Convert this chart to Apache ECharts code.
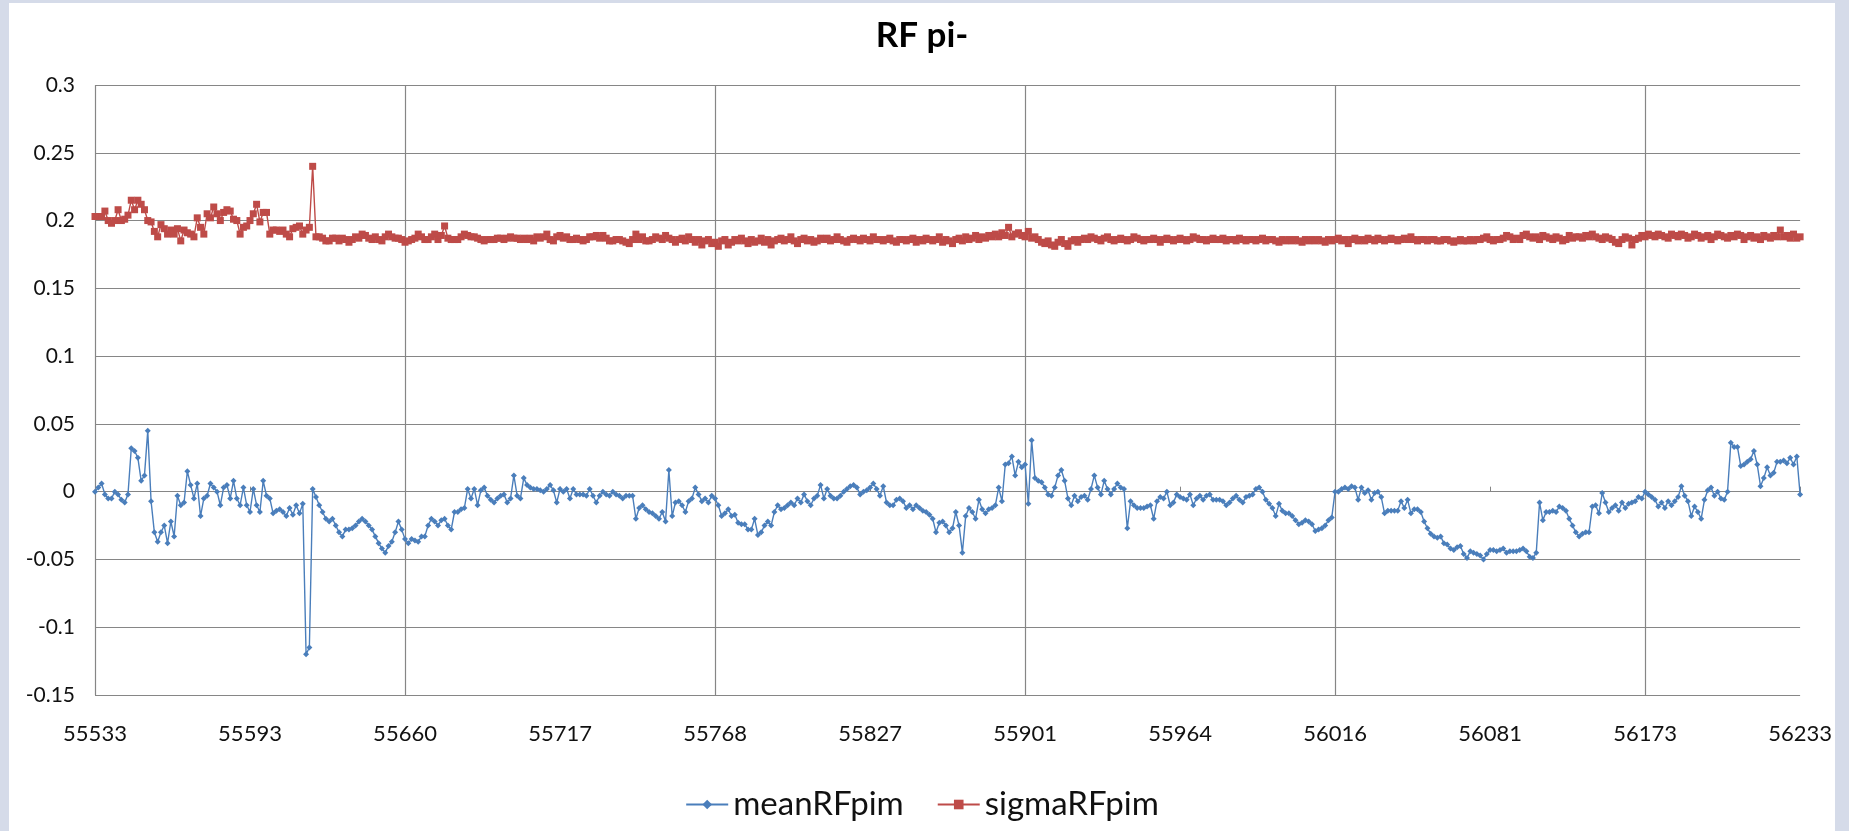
<!DOCTYPE html>
<html>
<head>
<meta charset="utf-8">
<title>RF pi-</title>
<script src="https://cdn.jsdelivr.net/npm/echarts@6/dist/echarts.min.js"></script>
<style>
  html, body { margin: 0; padding: 0; width: 1849px; height: 831px; overflow: hidden; background: #d5dbe9; }
  #chart { position: absolute; left: 9px; top: 3px; width: 1826px; height: 828px; background: #ffffff; }
</style>
</head>
<body>
<div id="chart"></div>
<script>
// Tick labels shown on the category axis (one every 47 runs)
const tickLabels = ['55533', '55593', '55660', '55717', '55768', '55827', '55901', '55964', '56016', '56081', '56173', '56233'];
const runsPerLabel = 47;

// meanRFpim (blue)
const meanRFpim = [
  0.000, 0.003, 0.006, -0.002, -0.005, -0.005, 0.000, -0.002, -0.006, -0.008,
  -0.002, 0.032, 0.030, 0.025, 0.008, 0.012, 0.045, -0.007, -0.030, -0.037,
  -0.030, -0.025, -0.038, -0.022, -0.033, -0.003, -0.010, -0.008, 0.015, 0.005,
  -0.005, 0.006, -0.018, -0.005, -0.003, 0.006, 0.003, 0.000, -0.010, 0.003,
  0.005, -0.005, 0.008, -0.005, -0.010, 0.003, -0.010, -0.015, 0.002, -0.010,
  -0.015, 0.008, -0.003, -0.005, -0.016, -0.014, -0.013, -0.015, -0.018, -0.012,
  -0.017, -0.010, -0.016, -0.009, -0.120, -0.115, 0.002, -0.004, -0.010, -0.015,
  -0.020, -0.022, -0.020, -0.025, -0.030, -0.033, -0.028, -0.028, -0.027, -0.025,
  -0.022, -0.020, -0.022, -0.025, -0.028, -0.033, -0.038, -0.042, -0.045, -0.040,
  -0.037, -0.030, -0.022, -0.028, -0.035, -0.038, -0.035, -0.036, -0.037, -0.033,
  -0.033, -0.025, -0.020, -0.022, -0.025, -0.021, -0.020, -0.025, -0.028, -0.015,
  -0.015, -0.013, -0.012, 0.002, -0.005, 0.002, -0.010, 0.001, 0.003, -0.003,
  -0.006, -0.008, -0.005, -0.003, -0.002, -0.008, -0.005, 0.012, -0.003, -0.005,
  0.010, 0.005, 0.003, 0.002, 0.002, 0.001, 0.000, 0.002, 0.005, 0.001,
  -0.008, 0.002, 0.000, 0.002, -0.005, 0.002, -0.002, -0.002, -0.002, -0.003,
  0.002, -0.003, -0.008, -0.003, 0.000, -0.002, -0.003, 0.000, -0.002, -0.003,
  -0.005, -0.003, -0.003, -0.003, -0.020, -0.012, -0.010, -0.013, -0.015, -0.016,
  -0.018, -0.020, -0.015, -0.022, 0.016, -0.018, -0.008, -0.007, -0.010, -0.015,
  -0.007, -0.005, 0.003, -0.002, -0.007, -0.005, -0.008, -0.003, -0.005, -0.010,
  -0.018, -0.016, -0.013, -0.018, -0.017, -0.023, -0.024, -0.024, -0.028, -0.028,
  -0.020, -0.032, -0.030, -0.025, -0.022, -0.025, -0.015, -0.010, -0.013, -0.012,
  -0.010, -0.008, -0.010, -0.005, -0.008, -0.002, -0.007, -0.010, -0.005, -0.003,
  0.005, -0.005, 0.002, -0.003, -0.005, -0.005, -0.003, 0.000, 0.002, 0.004,
  0.005, 0.003, -0.002, 0.000, 0.001, 0.003, 0.006, 0.002, -0.003, 0.004,
  -0.008, -0.010, -0.010, -0.006, -0.005, -0.007, -0.012, -0.010, -0.013, -0.010,
  -0.012, -0.014, -0.015, -0.017, -0.020, -0.030, -0.023, -0.022, -0.025, -0.030,
  -0.027, -0.015, -0.025, -0.045, -0.018, -0.012, -0.015, -0.020, -0.006, -0.013,
  -0.016, -0.013, -0.012, -0.010, 0.003, -0.007, 0.020, 0.021, 0.026, 0.012,
  0.022, 0.018, 0.020, -0.009, 0.038, 0.010, 0.008, 0.007, 0.003, -0.002,
  -0.003, 0.003, 0.012, 0.016, 0.008, -0.005, -0.010, -0.003, -0.007, -0.004,
  -0.003, -0.006, 0.002, 0.012, 0.003, -0.002, 0.008, 0.002, -0.002, 0.002,
  0.006, 0.003, 0.002, -0.027, -0.007, -0.010, -0.012, -0.012, -0.012, -0.011,
  -0.010, -0.020, -0.007, -0.004, -0.005, 0.000, -0.010, -0.008, -0.002, -0.004,
  -0.005, -0.006, -0.002, -0.010, -0.005, -0.003, -0.006, -0.003, -0.002, -0.006,
  -0.006, -0.006, -0.007, -0.010, -0.008, -0.005, -0.003, -0.006, -0.008, -0.004,
  -0.003, -0.002, 0.002, 0.003, 0.000, -0.006, -0.009, -0.012, -0.018, -0.009,
  -0.014, -0.016, -0.016, -0.018, -0.021, -0.024, -0.023, -0.021, -0.022, -0.024,
  -0.029, -0.028, -0.027, -0.025, -0.021, -0.019, 0.000, 0.000, 0.002, 0.003,
  0.002, 0.004, 0.003, -0.006, 0.003, -0.001, 0.001, -0.006, -0.001, 0.000,
  -0.004, -0.016, -0.014, -0.014, -0.014, -0.014, -0.007, -0.012, -0.006, -0.016,
  -0.013, -0.013, -0.015, -0.022, -0.027, -0.031, -0.033, -0.034, -0.033, -0.038,
  -0.039, -0.042, -0.043, -0.041, -0.040, -0.046, -0.049, -0.044, -0.045, -0.046,
  -0.047, -0.050, -0.046, -0.043, -0.043, -0.044, -0.043, -0.042, -0.045, -0.044,
  -0.044, -0.044, -0.043, -0.042, -0.044, -0.048, -0.049, -0.045, -0.008, -0.021,
  -0.015, -0.015, -0.014, -0.015, -0.011, -0.012, -0.014, -0.020, -0.025, -0.030,
  -0.033, -0.031, -0.030, -0.030, -0.011, -0.010, -0.016, -0.001, -0.008, -0.015,
  -0.012, -0.010, -0.014, -0.008, -0.012, -0.009, -0.008, -0.007, -0.004, -0.005,
  0.000, -0.002, -0.004, -0.006, -0.011, -0.008, -0.012, -0.007, -0.010, -0.007,
  -0.004, 0.004, -0.003, -0.007, -0.018, -0.011, -0.015, -0.020, -0.006, 0.001,
  0.003, -0.003, 0.000, -0.005, -0.006, 0.000, 0.036, 0.033, 0.033, 0.019,
  0.020, 0.022, 0.024, 0.030, 0.020, 0.004, 0.010, 0.018, 0.012, 0.014,
  0.022, 0.022, 0.023, 0.021, 0.025, 0.020, 0.026, -0.002
];

// sigmaRFpim (red)
const sigmaRFpim = [
  0.203, 0.203, 0.203, 0.207, 0.200, 0.198, 0.200, 0.208, 0.200, 0.201,
  0.204, 0.215, 0.208, 0.215, 0.212, 0.208, 0.200, 0.199, 0.192, 0.188,
  0.197, 0.194, 0.190, 0.193, 0.190, 0.194, 0.185, 0.193, 0.191, 0.190,
  0.188, 0.202, 0.195, 0.190, 0.205, 0.202, 0.210, 0.205, 0.200, 0.206,
  0.208, 0.207, 0.201, 0.200, 0.190, 0.195, 0.196, 0.200, 0.205, 0.212,
  0.199, 0.206, 0.206, 0.190, 0.193, 0.193, 0.192, 0.193, 0.190, 0.188,
  0.194, 0.195, 0.196, 0.190, 0.193, 0.195, 0.240, 0.188, 0.188, 0.187,
  0.185, 0.185, 0.187, 0.187, 0.185, 0.187, 0.186, 0.184, 0.186, 0.188,
  0.187, 0.190, 0.189, 0.187, 0.186, 0.188, 0.186, 0.185, 0.188, 0.190,
  0.188, 0.187, 0.187, 0.186, 0.184, 0.185, 0.186, 0.187, 0.190, 0.188,
  0.186, 0.186, 0.188, 0.190, 0.186, 0.189, 0.196, 0.187, 0.186, 0.186,
  0.186, 0.188, 0.190, 0.189, 0.188, 0.188, 0.187, 0.186, 0.185, 0.186,
  0.186, 0.186, 0.187, 0.187, 0.186, 0.187, 0.188, 0.187, 0.187, 0.186,
  0.187, 0.186, 0.187, 0.185, 0.188, 0.187, 0.188, 0.190, 0.186, 0.185,
  0.188, 0.189, 0.187, 0.188, 0.186, 0.186, 0.187, 0.186, 0.185, 0.186,
  0.188, 0.188, 0.189, 0.187, 0.189, 0.187, 0.185, 0.185, 0.186, 0.186,
  0.185, 0.184, 0.183, 0.186, 0.190, 0.186, 0.188, 0.185, 0.185, 0.186,
  0.188, 0.187, 0.186, 0.189, 0.187, 0.186, 0.184, 0.186, 0.187, 0.185,
  0.188, 0.186, 0.184, 0.186, 0.182, 0.185, 0.186, 0.183, 0.184, 0.181,
  0.185, 0.186, 0.182, 0.184, 0.186, 0.185, 0.187, 0.185, 0.183, 0.186,
  0.184, 0.185, 0.187, 0.184, 0.186, 0.182, 0.185, 0.186, 0.187, 0.185,
  0.186, 0.188, 0.185, 0.183, 0.186, 0.187, 0.185, 0.186, 0.184, 0.185,
  0.187, 0.186, 0.187, 0.185, 0.186, 0.188, 0.186, 0.185, 0.184, 0.186,
  0.187, 0.186, 0.185, 0.187, 0.186, 0.185, 0.188, 0.186, 0.186, 0.185,
  0.186, 0.187, 0.185, 0.184, 0.186, 0.186, 0.185, 0.186, 0.187, 0.184,
  0.186, 0.185, 0.187, 0.186, 0.185, 0.186, 0.188, 0.184, 0.186, 0.185,
  0.183, 0.186, 0.187, 0.185, 0.188, 0.186, 0.187, 0.189, 0.186, 0.188,
  0.187, 0.189, 0.188, 0.190, 0.188, 0.191, 0.189, 0.195, 0.188, 0.190,
  0.191, 0.189, 0.188, 0.192, 0.187, 0.188, 0.186, 0.184, 0.183, 0.185,
  0.182, 0.181, 0.184, 0.186, 0.183, 0.181, 0.185, 0.186, 0.184, 0.186,
  0.187, 0.186, 0.188, 0.187, 0.186, 0.185, 0.187, 0.188, 0.186, 0.185,
  0.186, 0.187, 0.186, 0.185, 0.186, 0.188, 0.187, 0.186, 0.185, 0.186,
  0.186, 0.187, 0.186, 0.184, 0.186, 0.187, 0.186, 0.185, 0.186, 0.187,
  0.186, 0.185, 0.186, 0.188, 0.187, 0.186, 0.186, 0.185, 0.186, 0.187,
  0.186, 0.186, 0.187, 0.185, 0.186, 0.186, 0.185, 0.187, 0.186, 0.185,
  0.186, 0.186, 0.185, 0.186, 0.187, 0.185, 0.186, 0.186, 0.185, 0.184,
  0.186, 0.185, 0.186, 0.185, 0.186, 0.185, 0.184, 0.186, 0.185, 0.186,
  0.185, 0.186, 0.185, 0.184, 0.186, 0.185, 0.186, 0.187, 0.185, 0.186,
  0.183, 0.186, 0.187, 0.185, 0.186, 0.185, 0.187, 0.186, 0.185, 0.187,
  0.186, 0.185, 0.186, 0.187, 0.186, 0.185, 0.186, 0.187, 0.186, 0.188,
  0.186, 0.185, 0.186, 0.186, 0.185, 0.186, 0.186, 0.185, 0.185, 0.186,
  0.186, 0.185, 0.184, 0.185, 0.186, 0.185, 0.185, 0.186, 0.185, 0.186,
  0.186, 0.187, 0.188, 0.186, 0.185, 0.186, 0.186, 0.187, 0.189, 0.188,
  0.186, 0.187, 0.186, 0.189, 0.190, 0.188, 0.187, 0.188, 0.186, 0.189,
  0.188, 0.187, 0.186, 0.188, 0.187, 0.185, 0.186, 0.189, 0.187, 0.188,
  0.188, 0.187, 0.189, 0.188, 0.190, 0.188, 0.187, 0.186, 0.188, 0.187,
  0.186, 0.184, 0.183, 0.186, 0.188, 0.187, 0.182, 0.186, 0.187, 0.189,
  0.188, 0.190, 0.189, 0.188, 0.190, 0.189, 0.188, 0.187, 0.190, 0.189,
  0.188, 0.190, 0.189, 0.187, 0.188, 0.190, 0.189, 0.187, 0.188, 0.189,
  0.186, 0.188, 0.190, 0.189, 0.188, 0.187, 0.189, 0.188, 0.190, 0.189,
  0.186, 0.188, 0.189, 0.187, 0.188, 0.186, 0.189, 0.188, 0.187, 0.189,
  0.188, 0.193, 0.188, 0.189, 0.187, 0.190, 0.187, 0.188
];

// Category axis: run labels at every 47th run, other runs are unlabeled
const categories = meanRFpim.map((_, i) =>
  i % runsPerLabel === 0 && tickLabels[i / runsPerLabel] !== undefined ? tickLabels[i / runsPerLabel] : 'run#' + i
);

const FONT = 'Lato, "Open Sans", sans-serif';
const GRID_COLOR = '#868686';

const chart = echarts.init(document.getElementById('chart'), null, { renderer: 'canvas' });
chart.setOption({
  animation: false,
  backgroundColor: '#ffffff',
  title: {
    text: 'RF pi-',
    left: 'center',
    top: 10,
    textStyle: { fontFamily: FONT, fontSize: 35, fontWeight: 'bold', color: '#000' }
  },
  legend: {
    left: 'center',
    top: 780,
    itemWidth: 42,
    itemHeight: 12,
    itemGap: 33,
    textStyle: { fontFamily: FONT, fontSize: 33, color: '#111' },
    data: ['meanRFpim', 'sigmaRFpim']
  },
  grid: { left: 86, right: 26, top: 82, bottom: 136, containLabel: false },
  xAxis: [
    {
      type: 'category',
      data: categories,
      boundaryGap: false,
      axisLine: { show: false, onZero: false },
      axisTick: { show: false },
      axisLabel: {
        interval: runsPerLabel - 1,
        fontFamily: FONT, fontSize: 22, color: '#111', margin: 28
      },
      splitLine: { show: true, interval: 2 * runsPerLabel - 1, lineStyle: { color: GRID_COLOR, width: 1.2 } }
    },
    {
      type: 'category',
      data: categories,
      boundaryGap: false,
      position: 'bottom',
      axisLine: { show: true, onZero: true, lineStyle: { color: GRID_COLOR, width: 1.2 } },
      axisTick: { show: true, inside: true, length: 5, interval: runsPerLabel - 1, lineStyle: { color: GRID_COLOR, width: 1 } },
      axisLabel: { show: false },
      splitLine: { show: false }
    }
  ],
  yAxis: {
    type: 'value',
    min: -0.15,
    max: 0.3,
    interval: 0.05,
    axisLine: { show: false },
    axisTick: { show: false },
    axisLabel: {
      fontFamily: FONT, fontSize: 21, color: '#111', margin: 20,
      formatter: v => String(+v.toFixed(2))
    },
    splitLine: { show: true, lineStyle: { color: GRID_COLOR, width: 1.2 } }
  },
  series: [
    {
      name: 'meanRFpim',
      type: 'line',
      xAxisIndex: 0,
      data: meanRFpim,
      symbol: 'diamond',
      symbolSize: 6,
      showSymbol: true,
      showAllSymbol: true,
      color: '#4a7ebb',
      lineStyle: { width: 1.4, color: '#4a7ebb' },
      itemStyle: { color: '#4a7ebb' }
    },
    {
      name: 'sigmaRFpim',
      type: 'line',
      xAxisIndex: 0,
      data: sigmaRFpim,
      symbol: 'rect',
      symbolSize: 7,
      showSymbol: true,
      showAllSymbol: true,
      color: '#be4b48',
      lineStyle: { width: 1.4, color: '#be4b48' },
      itemStyle: { color: '#be4b48' }
    }
  ]
});
</script>
</body>
</html>
